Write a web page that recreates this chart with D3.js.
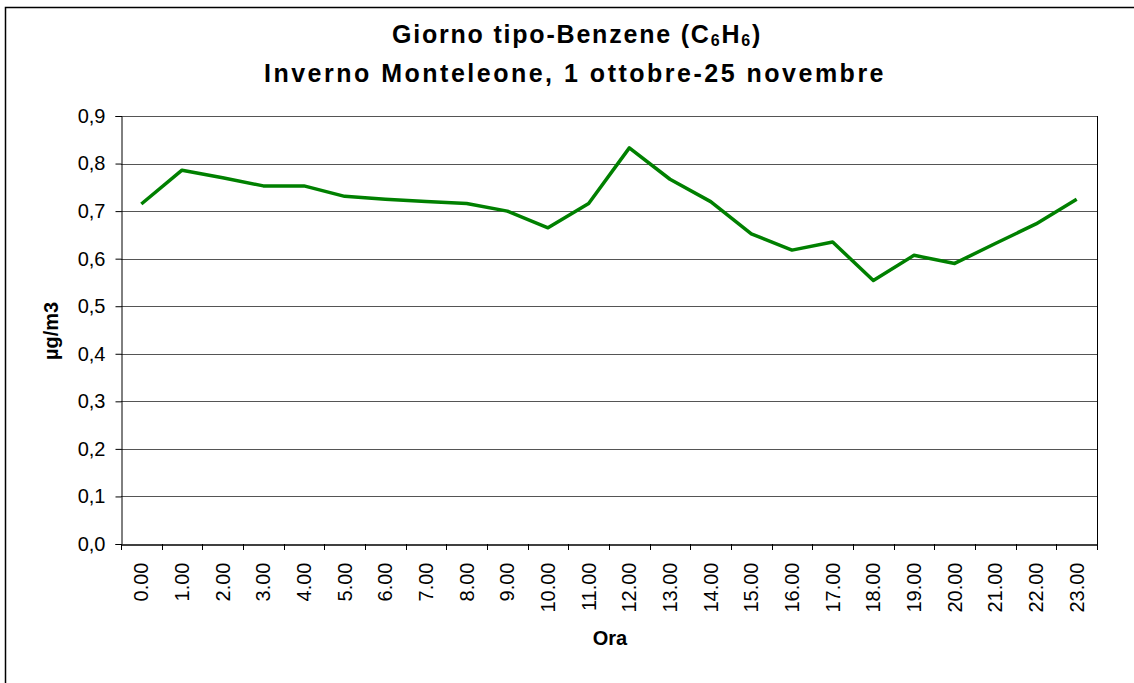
<!DOCTYPE html>
<html>
<head>
  <meta content="text/html;charset=utf-8" http-equiv="Content-Type">
  <title>Giorno tipo-Benzene</title>
  <style type="text/css">
    body { margin:0; background:#fff; }
    svg text { font-family: "Liberation Sans", Arial, sans-serif; fill:#000; }
    .bold { font-weight:bold; }
  </style>
  <script src="https://cdnjs.cloudflare.com/ajax/libs/d3/7.6.1/d3.min.js"></script>
  <script>

    var hours = ['0.00','1.00','2.00','3.00','4.00','5.00','6.00','7.00','8.00','9.00','10.00','11.00',
                 '12.00','13.00','14.00','15.00','16.00','17.00','18.00','19.00','20.00','21.00','22.00','23.00'];
    var benzene = [0.715,0.786,0.770,0.753,0.753,0.731,0.725,0.720,0.716,0.700,0.665,0.716,
                   0.833,0.767,0.720,0.652,0.618,0.635,0.554,0.607,0.590,0.632,0.673,0.725];
    var yTicks = [0,0.1,0.2,0.3,0.4,0.5,0.6,0.7,0.8,0.9];

    function main() {
      var svg = d3.select('#chart').attr('width', 1134).attr('height', 683);
      var left = 121, right = 1097, top = 116, bottom = 544;

      // outer chart border
      svg.append('rect').attr('x', 5.5).attr('y', 7.5).attr('width', 1140).attr('height', 700)
        .attr('fill', 'none').attr('stroke', '#000').attr('stroke-width', 1.5);

      var x = d3.scaleBand().domain(hours).range([left, right]);
      var y = d3.scaleLinear().domain([0, 0.9]).range([bottom, top]);

      // gridlines
      svg.append('g').selectAll('line').data(yTicks.slice(1)).enter().append('line')
        .attr('x1', left).attr('x2', right)
        .attr('y1', function(d){ return Math.round(y(d)) + 0.5; })
        .attr('y2', function(d){ return Math.round(y(d)) + 0.5; })
        .attr('stroke', '#555').attr('stroke-width', 1);

      // right border of plot
      svg.append('line').attr('x1', right + 0.5).attr('x2', right + 0.5).attr('y1', top).attr('y2', bottom)
        .attr('stroke', '#000');

      // y axis
      var yAxis = d3.axisLeft(y).tickValues(yTicks).tickSize(6).tickPadding(10)
        .tickFormat(function(d){ return d3.format('.1f')(d).replace('.', ','); });
      var gy = svg.append('g').attr('transform', 'translate(' + (left + 0.5) + ',0)').call(yAxis);
      gy.select('.domain').attr('stroke', '#000');
      gy.selectAll('text').attr('fill', '#000').style('font-size', '20px');

      // x axis
      var xAxis = d3.axisBottom(x).tickSize(0).tickPadding(0);
      var gx = svg.append('g').attr('transform', 'translate(0,' + (bottom + 0.5) + ')').call(xAxis);
      gx.select('.domain').attr('stroke', '#000').attr('stroke-width', 1.5);
      gx.selectAll('text').attr('transform', 'rotate(-90)')
        .attr('x', -18).attr('y', 0).attr('dy', '0.35em')
        .style('text-anchor', 'end').style('font-size', '20px').attr('fill', '#000');

      // x ticks at category boundaries
      var bounds = hours.map(function(h){ return x(h); }).concat([right]);
      svg.append('g').selectAll('line').data(bounds).enter().append('line')
        .attr('x1', function(d){ return Math.round(d) + 0.5; })
        .attr('x2', function(d){ return Math.round(d) + 0.5; })
        .attr('y1', bottom).attr('y2', bottom + 6).attr('stroke', '#000');

      // line
      var line = d3.line()
        .x(function(d, i){ return x(hours[i]) + x.bandwidth() / 2; })
        .y(function(d){ return y(d); });
      svg.append('path').datum(benzene).attr('d', line)
        .attr('fill', 'none').attr('stroke', '#008000').attr('stroke-width', 3.5)
        .attr('stroke-linejoin', 'round');

      // titles
      var t1 = svg.append('text').attr('class', 'bold').attr('x', 577).attr('y', 43)
        .attr('text-anchor', 'middle').style('font-size', '25px').style('letter-spacing', '1.8px');
      t1.append('tspan').text('Giorno tipo-Benzene (C');
      t1.append('tspan').attr('dy', 3).style('font-size', '16px').text('6');
      t1.append('tspan').attr('dy', -3).text('H');
      t1.append('tspan').attr('dy', 3).style('font-size', '16px').text('6');
      t1.append('tspan').attr('dy', -3).text(')');

      svg.append('text').attr('class', 'bold').attr('x', 575).attr('y', 82)
        .attr('text-anchor', 'middle').style('font-size', '25px').style('letter-spacing', '2.5px')
        .text('Inverno Monteleone, 1 ottobre-25 novembre');

      svg.append('text').attr('class', 'bold').attr('transform', 'translate(58,331) rotate(-90)')
        .attr('text-anchor', 'middle').style('font-size', '20px').text('\u00b5g/m3');

      svg.append('text').attr('class', 'bold').attr('x', 610).attr('y', 645)
        .attr('text-anchor', 'middle').style('font-size', '20px').text('Ora');
    }

  </script>
</head>
<body onload='main()'>
  <svg id="chart"></svg>
</body>
</html>
